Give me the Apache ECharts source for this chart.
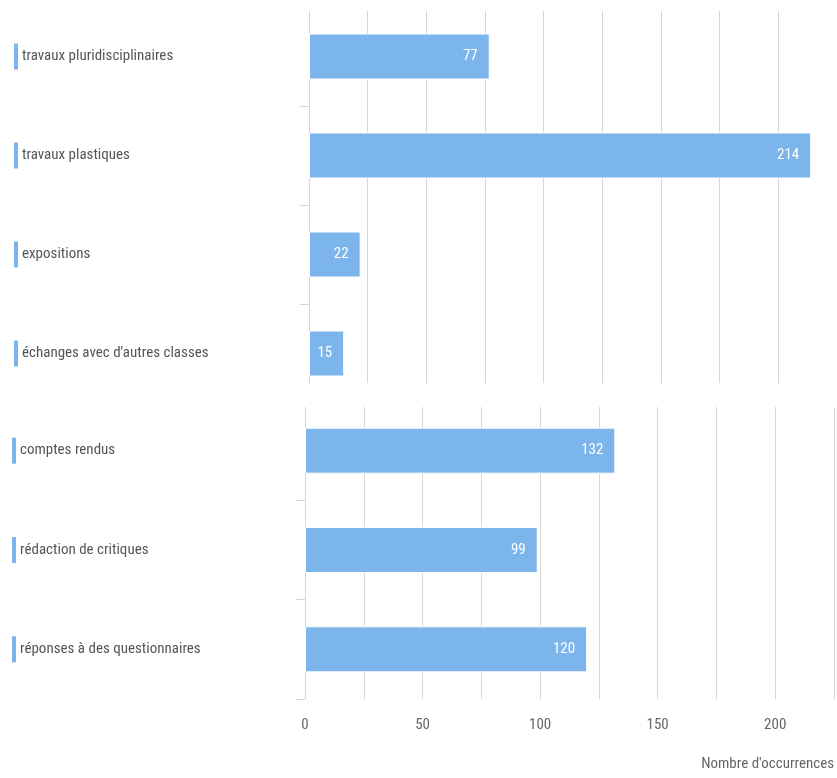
<!DOCTYPE html>
<html>
<head>
<meta charset="utf-8">
<script src="https://cdn.jsdelivr.net/npm/echarts@6/dist/echarts.min.js"></script>
<style>
html,body{margin:0;padding:0;background:#fff;}
#chart{width:837px;height:778px;}
</style>
</head>
<body>
<div id="chart"></div>
<script>
const topCategories = ["travaux pluridisciplinaires", "travaux plastiques", "expositions", "échanges avec d'autres classes"];
const topValues = [77, 214, 22, 15];
const bottomCategories = ["comptes rendus", "rédaction de critiques", "réponses à des questionnaires"];
const bottomValues = [132, 99, 120];
const axisTitle = "Nombre d'occurrences";

const FONT = '"Roboto Condensed", "Liberation Sans Narrow", sans-serif';
const BAR = '#7cb5ec';
const chart = echarts.init(document.getElementById('chart'));

function catAxis(gridIndex, cats, margin) {
  return {
    type: 'category', gridIndex: gridIndex, data: cats, inverse: true,
    axisLine: { show: true, lineStyle: { color: '#ccd6eb', width: 1 } },
    axisTick: { show: true, length: 9, lineStyle: { color: '#ccd6eb' } },
    axisLabel: {
      align: 'left', margin: margin,
      formatter: v => '{m|}{t|' + v + '}',
      rich: {
        m: { width: 4, height: 26, backgroundColor: BAR },
        t: { fontFamily: FONT, fontSize: 15, color: '#555', padding: [0, 0, 0, 4] }
      }
    }
  };
}
function valAxis(gridIndex, showLabels) {
  const ax = {
    type: 'value', gridIndex: gridIndex, min: 0, max: 225, interval: 25,
    axisLine: { show: false }, axisTick: { show: false },
    splitLine: { show: true, lineStyle: { color: '#d6d6d6', width: 1 } },
    axisLabel: showLabels ? {
      show: true, margin: 19, fontFamily: FONT, fontSize: 15, color: '#666',
      formatter: v => (v % 50 === 0 ? String(v) : '')
    } : { show: false }
  };
  if (showLabels) {
    ax.name = axisTitle;
    ax.nameLocation = 'end';
    ax.nameGap = 0;
    ax.nameTextStyle = { fontFamily: FONT, fontSize: 15, color: '#666', align: 'right', verticalAlign: 'top', padding: [58, 0, 0, 0] };
  }
  return ax;
}
function barSeries(idx, values) {
  return {
    type: 'bar', xAxisIndex: idx, yAxisIndex: idx, data: values, barWidth: 46,
    itemStyle: { color: BAR, borderColor: '#ffffff', borderWidth: 1 },
    label: { show: true, position: 'insideRight', distance: 12, color: '#fff', fontFamily: FONT, fontSize: 15 }
  };
}

chart.setOption({
  animation: false,
  grid: [
    { left: 309, width: 531, top: 7, height: 396 },
    { left: 305, width: 531, top: 401, height: 298 }
  ],
  xAxis: [valAxis(0, false), valAxis(1, true)],
  yAxis: [catAxis(0, topCategories, 295), catAxis(1, bottomCategories, 293)],
  series: [barSeries(0, topValues), barSeries(1, bottomValues)],
  graphic: [
    { type: 'rect', z: 100, silent: true, shape: { x: 280, y: 383, width: 557, height: 24 }, style: { fill: '#ffffff' } },
    { type: 'rect', z: 100, silent: true, shape: { x: 280, y: 0, width: 557, height: 11 }, style: { fill: '#ffffff' } }
  ]
});
</script>
</body>
</html>
